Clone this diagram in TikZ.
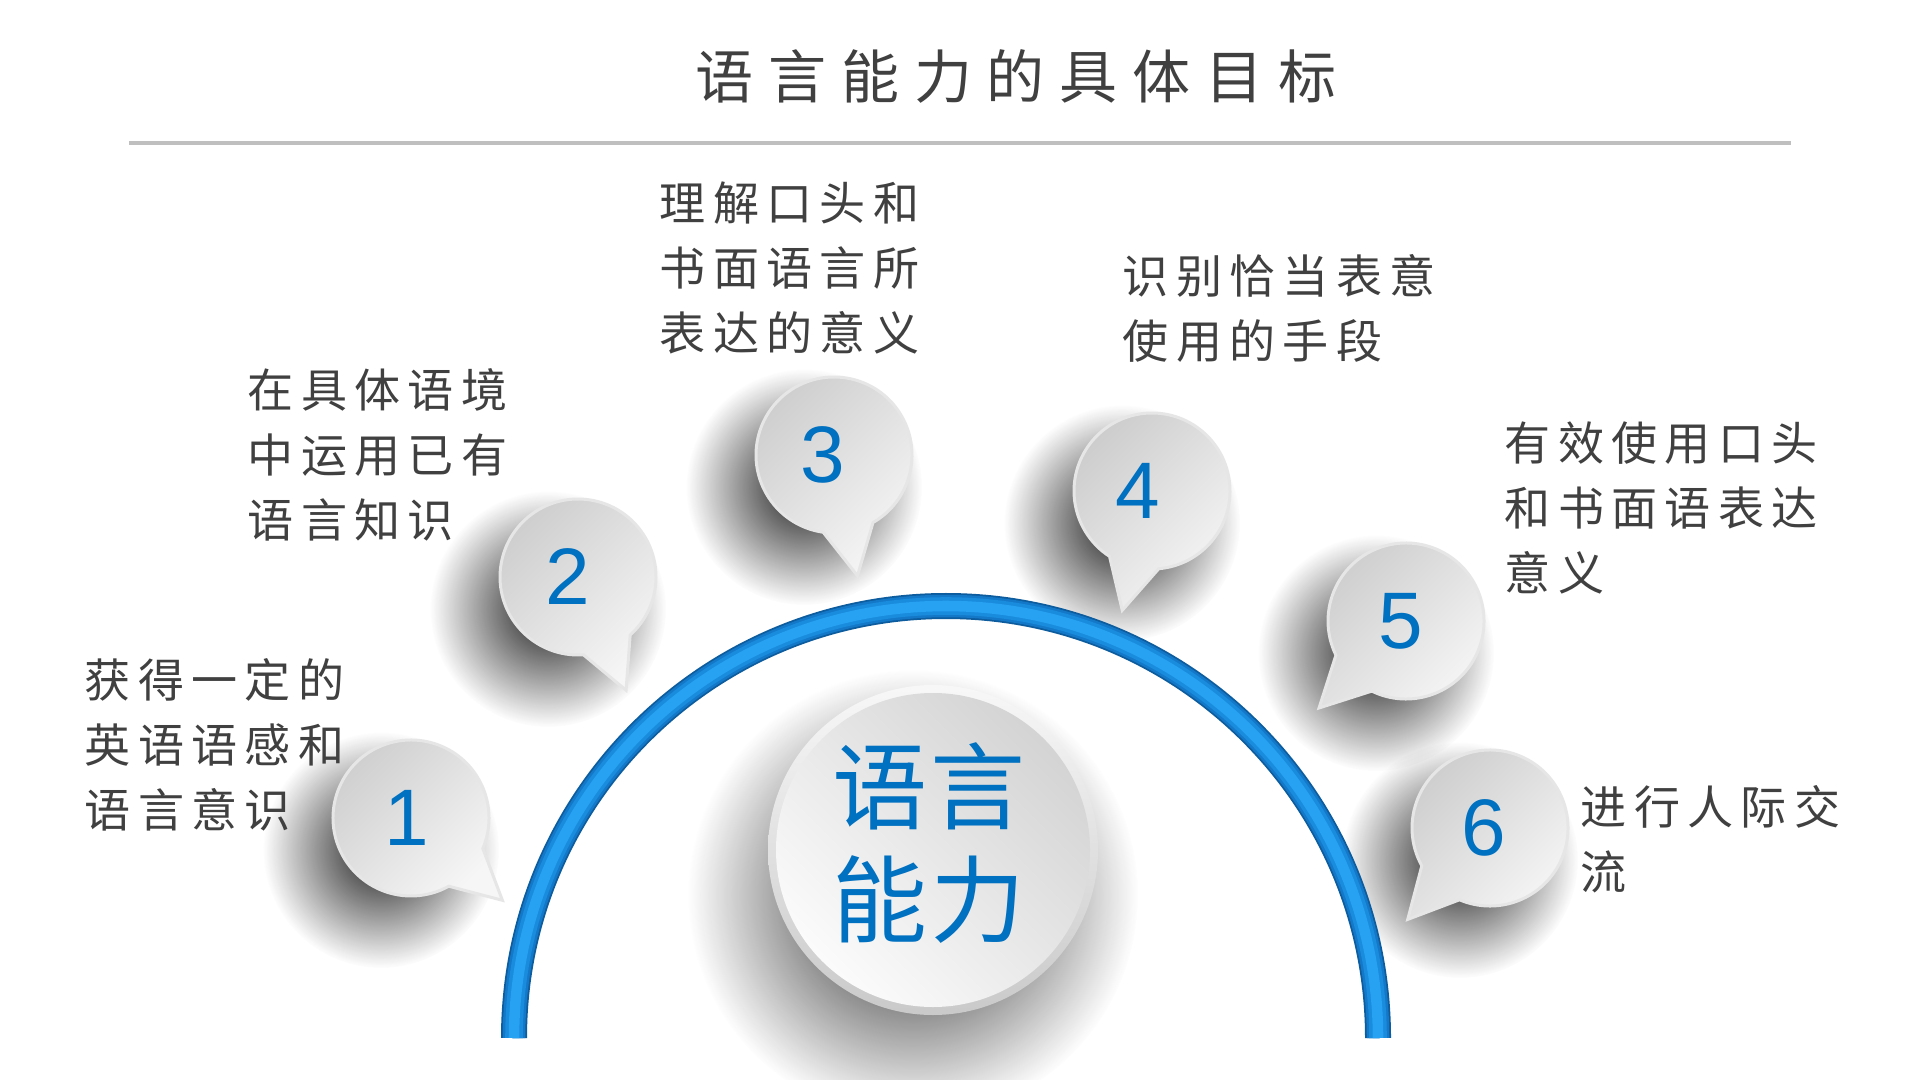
\documentclass[tikz,border=0pt]{standalone}
\usepackage{fontspec}
\setmainfont{Liberation Sans}
\newfontfamily\cjkbody[LetterSpace=16]{Noto Sans CJK SC}
\newfontfamily\cjktitle[LetterSpace=25.5]{Noto Sans CJK SC}
\newfontfamily\cjkbig[LetterSpace=3]{Noto Sans CJK SC}
\usepackage{tikz}
\usetikzlibrary{calc, fadings}

\definecolor{txtgray}{HTML}{404040}
\definecolor{numblue}{HTML}{0070C0}
\definecolor{rulegray}{HTML}{BFBFBF}
\definecolor{arcdark}{HTML}{0C5C9E}
\definecolor{arcdeep}{HTML}{1478C8}
\definecolor{arcmid}{HTML}{1A8CDE}
\definecolor{arclight}{HTML}{27A2F2}
\definecolor{bubbledark}{HTML}{CDCDCD}
\definecolor{bubblelight}{HTML}{F6F6F6}
\definecolor{rimgray}{HTML}{E6E6E6}

\tikzfading[name=softshadow, inner color=transparent!0, outer color=transparent!100]

\begin{document}
\begin{tikzpicture}[
    every node/.style={inner sep=0pt},
    goal/.style={font=\cjkbody\fontsize{13.1}{18.5}\selectfont, text=txtgray, align=left, anchor=west},
    num/.style={font=\fontsize{22.8}{24}\selectfont, text=numblue},
    bubble/.style={top color=bubbledark, bottom color=bubblelight, shading angle=45, draw=rimgray, line width=0.85pt},
    blob/.style={fill=black, fill opacity=0.9, path fading=softshadow},
    ring/.style={line width=#1}
]
    \fill[white] (0,0) rectangle (19.2,-10.8);
    \useasboundingbox (0,0) rectangle (19.2,-10.8);

    % Title
    \node[font=\cjktitle\fontsize{16.5}{18}\selectfont, text=txtgray] (title) at (10.16,-0.76) {语言能力的具体目标};
    \draw[rulegray, line width=1.4pt] (1.29,-1.43) -- (17.91,-1.43);

    % Shadows
    \foreach \x/\y in {4.11/-8.18, 5.78/-5.77, 8.34/-4.55, 11.52/-4.91, 14.06/-6.21, 14.90/-8.28}
        \fill[blob] (\x-0.3,\y-0.32) circle (1.18);
    \fill[blob] (9.13,-8.95) circle (2.25);

    % Half ring
    \foreach \c/\w in {arcdark/7.4pt, arcdeep/6.4pt, arcmid/5.0pt, arclight/3.0pt}
        \draw[\c, ring=\w] (5.14,-10.38) arc[start angle=180, end angle=0, radius=4.32];

    % Centre disc
    \shade[top color=gray!6, bottom color=gray!42] (9.33,-8.50) circle (1.65);
    \shade[top color=gray!34, bottom color=gray!3, shading angle=-45] (9.33,-8.50) circle (1.57);
    \node[font=\cjkbig\fontsize{27}{32}\selectfont, text=numblue, align=center] (core) at (9.29,-8.43) {语言\\能力};

    % Bubbles
    \foreach \x/\y/\a/\d/\n in {4.11/-8.18/-42/-0.04/1, 5.78/-5.77/-67/-0.10/2, 8.34/-4.55/-79/-0.11/3,
                                11.52/-4.91/-104/-0.14/4, 14.06/-6.21/-135/-0.05/5, 14.90/-8.28/-132/-0.06/6}
    {
        \pgfmathsetmacro{\ua}{\a+19}
        \pgfmathsetmacro{\ub}{\a+341}
        \shade[bubble] (\x,\y) ++(\ua:0.78) arc[start angle=\ua, end angle=\ub, radius=0.78]
            -- ($(\x,\y)+(\a:1.23)$) -- cycle;
        \node[num] (b\n) at (\x+\d,\y) {\n};
    }

    % Goals
    \node[goal] (g1) at (0.84,-7.45) {获得一定的\\英语语感和\\语言意识};
    \node[goal] (g2) at (2.47,-4.55) {在具体语境\\中运用已有\\语言知识};
    \node[goal] (g3) at (6.59,-2.68) {理解口头和\\书面语言所\\表达的意义};
    \node[goal] (g4) at (11.22,-3.08) {识别恰当表意\\使用的手段};
    \node[goal] (g5) at (15.04,-5.08) {有效使用口头\\和书面语表达\\意义};
    \node[goal] (g6) at (15.80,-8.39) {进行人际交\\流};
\end{tikzpicture}
\end{document}
